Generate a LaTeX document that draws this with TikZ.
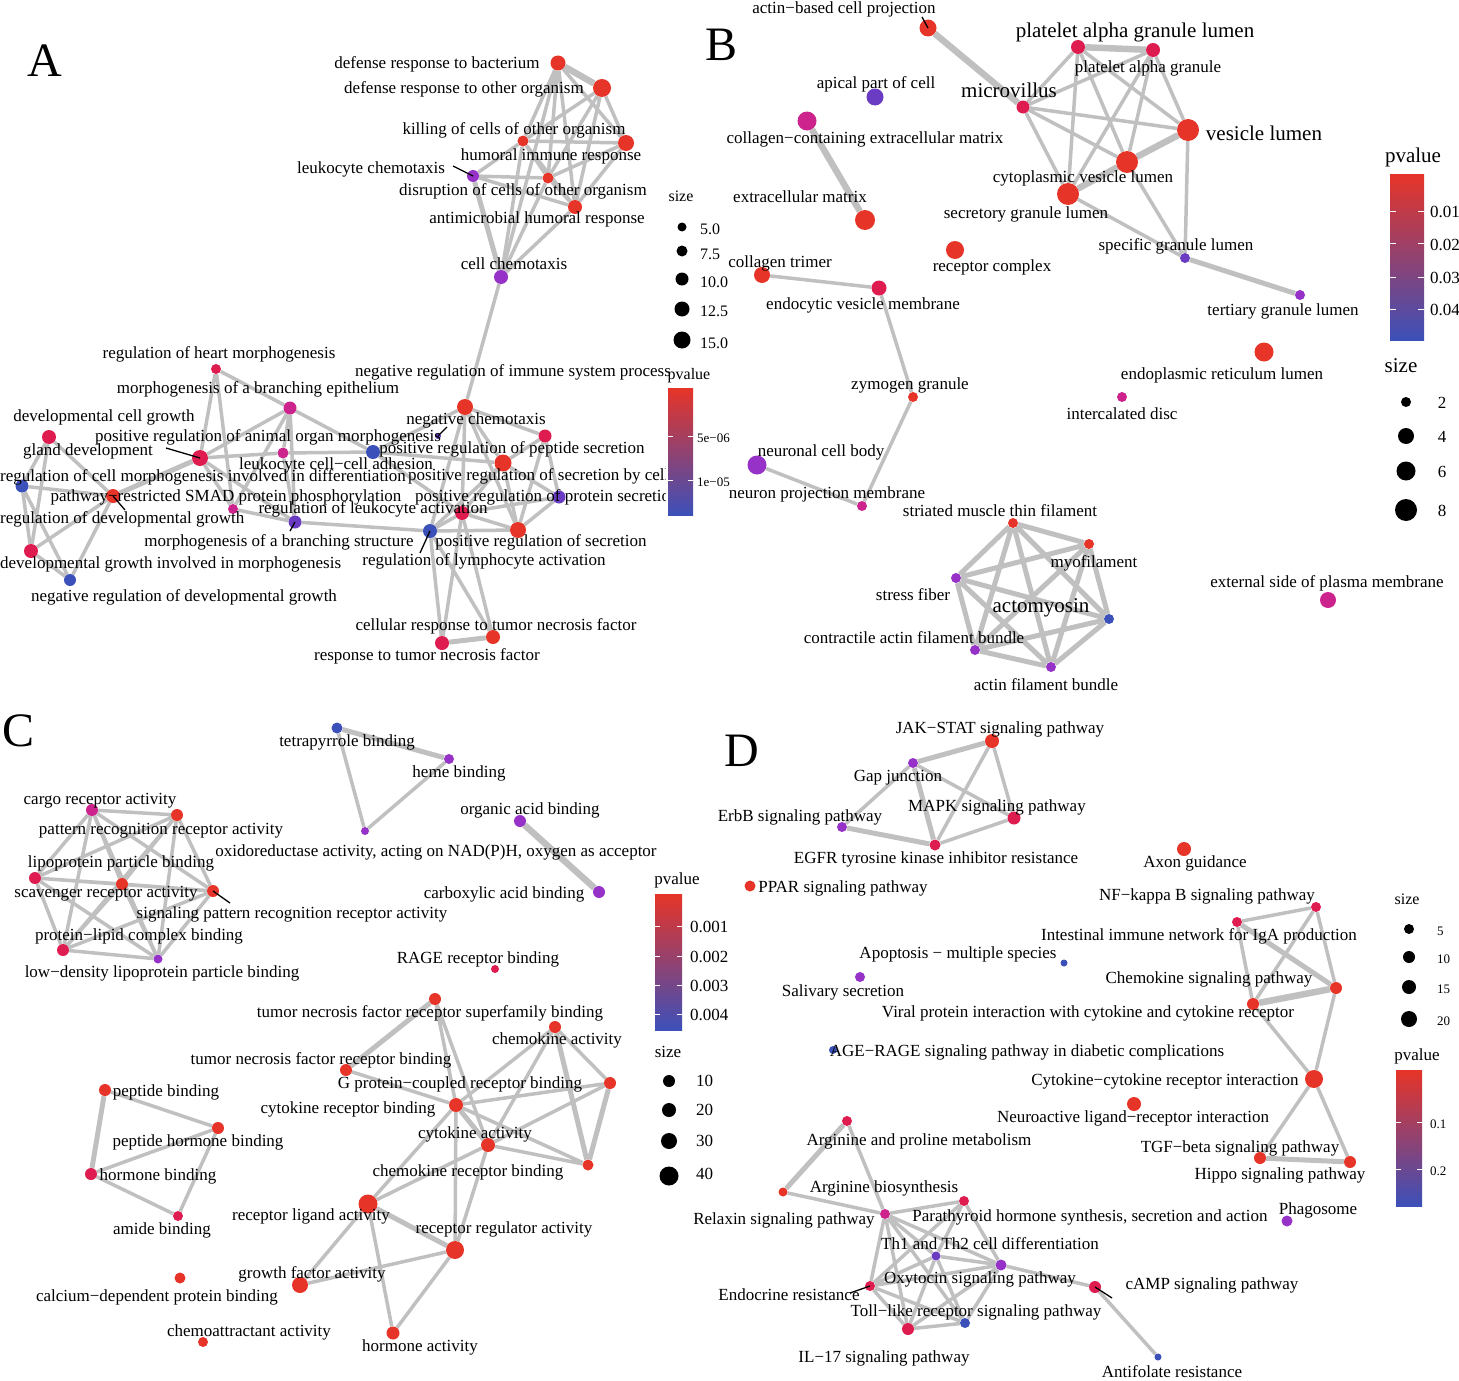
\documentclass[tikz,border=0pt]{standalone}
\usepackage{fontspec}
\setmainfont{Liberation Serif}
\usetikzlibrary{backgrounds}
\definecolor{pv1}{RGB}{230,52,40}
\definecolor{pv2}{RGB}{222,28,80}
\definecolor{pv3}{RGB}{205,35,140}
\definecolor{pv4}{RGB}{150,50,200}
\definecolor{pv5}{RGB}{105,60,195}
\definecolor{pv6}{RGB}{60,80,185}
\definecolor{linkgray}{RGB}{192,192,192}
\tikzset{
    term/.style={circle, inner sep=0pt, minimum size=#1},
    go/.style={inner sep=0pt, font=\fontsize{17}{17}\selectfont, text height=15pt, text depth=1.5pt},
    gobig/.style={go, font=\fontsize{21}{21}\selectfont},
    keytxt/.style={go, font=\fontsize{16}{16}\selectfont},
    keysmall/.style={go, font=\fontsize{13}{13}\selectfont},
    panel/.style={inner sep=0pt, font=\fontsize{48}{48}\selectfont},
    link/.style={draw=linkgray, line width=3.5pt},
    linkm/.style={draw=linkgray, line width=5pt},
    linkt/.style={draw=linkgray, line width=6.5pt},
    lead/.style={draw=black, line width=1.3pt},
    cbtick/.style={draw=white, line width=0.8pt}
}
\begin{document}
\begin{tikzpicture}[x=1pt, y=-1pt]
\useasboundingbox (0,0) rectangle (1459,1381);
% A
\path node[panel] (pA) at (45,61) {A}
    node[term=15, fill=pv1] (a1) at (558,63) {}
    node[term=18, fill=pv1] (a2) at (602,88) {}
    node[term=11, fill=pv1] (a3) at (523,141) {}
    node[term=16, fill=pv1] (a4) at (626,143) {}
    node[term=12, fill=pv4] (a5) at (473,176) {}
    node[term=11, fill=pv1] (a6) at (548,178) {}
    node[term=14, fill=pv1] (a7) at (575,207) {}
    node[term=14, fill=pv4] (a8) at (501,277) {}
    node[term=10, fill=pv2] (a9) at (216,369) {}
    node[term=13, fill=pv3] (a10) at (290,408) {}
    node[term=14, fill=pv2] (a11) at (49,437) {}
    node[term=16, fill=pv2] (a12) at (200,458) {}
    node[term=11, fill=pv3] (a13) at (283,453) {}
    node[term=13, fill=pv6] (a14) at (22,486) {}
    node[term=14, fill=pv1] (a15) at (113,496) {}
    node[term=10, fill=pv3] (a16) at (233,509) {}
    node[term=13, fill=pv5] (a17) at (295,522) {}
    node[term=14, fill=pv2] (a18) at (31,551) {}
    node[term=12, fill=pv6] (a19) at (70,580) {}
    node[term=16, fill=pv1] (a20) at (465,407) {}
    node[term=6, fill=pv5] (a21) at (438,436) {}
    node[term=13, fill=pv2] (a22) at (545,436) {}
    node[term=14, fill=pv6] (a23) at (373,452) {}
    node[term=17, fill=pv1] (a24) at (503,463) {}
    node[term=13, fill=pv5] (a25) at (559,497) {}
    node[term=14, fill=pv2] (a26) at (462,513) {}
    node[term=14, fill=pv6] (a27) at (430,531) {}
    node[term=16, fill=pv1] (a28) at (518,530) {}
    node[term=14, fill=pv1] (a29) at (493,637) {}
    node[term=14, fill=pv2] (a30) at (442,643) {};
\path node[go] (ta1) at (437,62) {defense response to bacterium}
    node[go] (ta2) at (464,87) {defense response to other organism}
    node[go] (ta3) at (514,128) {killing of cells of other organism}
    node[go] (ta4) at (551,154) {humoral immune response}
    node[go] (ta5) at (371,167) {leukocyte chemotaxis}
    node[go] (ta6) at (523,189) {disruption of cells of other organism}
    node[go] (ta7) at (537,217) {antimicrobial humoral response}
    node[go] (ta8) at (514,263) {cell chemotaxis}
    node[go] (ta9) at (219,352) {regulation of heart morphogenesis}
    node[go] (ta10) at (258,387) {morphogenesis of a branching epithelium}
    node[go] (ta11) at (104,415) {developmental cell growth}
    node[go] (ta12) at (268,435) {positive regulation of animal organ morphogenesis}
    node[go] (ta13) at (88,449) {gland development}
    node[go] (ta14) at (336,463) {leukocyte cell−cell adhesion}
    node[go, anchor=west] (ta15) at (0,475) {regulation of cell morphogenesis involved in differentiation}
    node[go] (ta16) at (226,495) {pathway−restricted SMAD protein phosphorylation}
    node[go] (ta17) at (373,507) {regulation of leukocyte activation}
    node[go, anchor=west] (ta18) at (0,517) {regulation of developmental growth}
    node[go] (ta19) at (279,540) {morphogenesis of a branching structure}
    node[go, anchor=west] (ta20) at (0,562) {developmental growth involved in morphogenesis}
    node[go] (ta21) at (184,595) {negative regulation of developmental growth}
    node[go] (ta22) at (513,370) {negative regulation of immune system process}
    node[go] (ta23) at (476,418) {negative chemotaxis}
    node[go] (ta24) at (512,447) {positive regulation of peptide secretion}
    node[go, anchor=west] (ta25) at (408,474) {positive regulation of secretion by cell}
    node[go, anchor=west] (ta26) at (415,495) {positive regulation of protein secretion}
    node[go] (ta27) at (541,540) {positive regulation of secretion}
    node[go] (ta28) at (484,559) {regulation of lymphocyte activation}
    node[go] (ta29) at (496,624) {cellular response to tumor necrosis factor}
    node[go] (ta30) at (427,654) {response to tumor necrosis factor};
\path coordinate (ka5) at (453,166)
    coordinate (ka12) at (166,448)
    coordinate (ka15) at (125,510)
    coordinate (ka17) at (290,531)
    coordinate (ka21) at (447,427)
    coordinate (ka27) at (420,553);
\draw[lead] (ka5) -- (a5.center);
\draw[lead] (ka12) -- (a12.center);
\draw[lead] (a15.center) -- (ka15);
\draw[lead] (ka17) -- (a17.center);
\draw[lead] (ka21) -- (a21.center);
\draw[lead] (ka27) -- (a27.center);
\begin{scope}[on background layer]
\draw[linkt] (a1) -- (a2);
\draw[link] (a1) -- (a3) (a1) -- (a4) (a1) -- (a6) (a1) -- (a7) (a1) -- (a8);
\draw[link] (a2) -- (a3) (a2) -- (a4) (a2) -- (a6) (a2) -- (a7);
\draw[link] (a3) -- (a4) (a3) -- (a5) (a3) -- (a6) (a3) -- (a7) (a3) -- (a8);
\draw[link] (a4) -- (a6) (a4) -- (a7) (a5) -- (a6) (a5) -- (a7) (a6) -- (a7) (a6) -- (a8) (a7) -- (a8);
\draw[linkm] (a5) -- (a8);
\draw[link] (a8) -- (a20);
\draw[link] (a11) -- (a14) (a11) -- (a15) (a11) -- (a18) (a14) -- (a15) (a14) -- (a18) (a14) -- (a19) (a15) -- (a18) (a15) -- (a19) (a18) -- (a19);
\draw[linkm] (a15) -- (a12);
\draw[link] (a9) -- (a12) (a9) -- (a10) (a9) -- (a16) (a10) -- (a12) (a10) -- (a13) (a10) -- (a16) (a10) -- (a17) (a10) -- (a23);
\draw[link] (a12) -- (a13) (a12) -- (a16) (a12) -- (a17) (a13) -- (a17) (a13) -- (a23) (a16) -- (a17) (a17) -- (a27);
\draw[link] (a23) -- (a20) (a23) -- (a24) (a23) -- (a26) (a20) -- (a22) (a20) -- (a24) (a20) -- (a26) (a20) -- (a27) (a20) -- (a28);
\draw[link] (a22) -- (a24) (a22) -- (a25) (a22) -- (a28) (a24) -- (a25) (a24) -- (a26) (a24) -- (a27) (a24) -- (a28);
\draw[link] (a25) -- (a26) (a25) -- (a28) (a26) -- (a27) (a26) -- (a28) (a27) -- (a28);
\draw[link] (a27) -- (a29) (a27) -- (a30) (a26) -- (a29) (a26) -- (a30);
\draw[linkm] (a29) -- (a30);
\end{scope}
\fill[white] (666,382) rectangle (745,520);
\shade[top color=pv1, middle color=pv3, bottom color=pv6] (668,388) rectangle (693,515);
\draw[cbtick] (668,436) -- ++(5,0) (693,436) -- ++(-5,0) (668,480) -- ++(5,0) (693,480) -- ++(-5,0);
\path node[keytxt] (kA1) at (681,195) {size}
    node[term=9, fill=black] (sA1) at (682,227) {}
    node[term=11, fill=black] (sA2) at (682,251) {}
    node[term=13, fill=black] (sA3) at (682,279) {}
    node[term=15, fill=black] (sA4) at (682,309) {}
    node[term=17, fill=black] (sA5) at (682,340) {}
    node[keytxt, anchor=west] (nA1) at (700,228) {5.0}
    node[keytxt, anchor=west] (nA2) at (700,253) {7.5}
    node[keytxt, anchor=west] (nA3) at (700,281) {10.0}
    node[keytxt, anchor=west] (nA4) at (700,310) {12.5}
    node[keytxt, anchor=west] (nA5) at (700,342) {15.0}
    node[keytxt] (kA2) at (689,373) {pvalue}
    node[keysmall, anchor=west] (vA1) at (697,436) {5e−06}
    node[keysmall, anchor=west] (vA2) at (697,480) {1e−05};
% B
\path node[panel] (pB) at (721,45) {B}
    node[term=17, fill=pv1] (b1) at (928,28) {}
    node[term=14, fill=pv2] (b2) at (1078,47) {}
    node[term=14, fill=pv2] (b3) at (1153,50) {}
    node[term=17, fill=pv5] (b4) at (875,97) {}
    node[term=13, fill=pv2] (b5) at (1023,107) {}
    node[term=19, fill=pv3] (b6) at (807,121) {}
    node[term=22, fill=pv1] (b7) at (1188,130) {}
    node[term=22, fill=pv1] (b8) at (1127,162) {}
    node[term=22, fill=pv1] (b9) at (1068,194) {}
    node[term=20, fill=pv1] (b10) at (865,220) {}
    node[term=10, fill=pv5] (b11) at (1185,258) {}
    node[term=16, fill=pv1] (b12) at (762,275) {}
    node[term=18, fill=pv1] (b13) at (955,250) {}
    node[term=15, fill=pv2] (b14) at (879,288) {}
    node[term=10, fill=pv4] (b15) at (1300,295) {}
    node[term=19, fill=pv1] (b16) at (1264,352) {}
    node[term=10, fill=pv1] (b17) at (913,397) {}
    node[term=10, fill=pv3] (b18) at (1122,397) {}
    node[term=19, fill=pv4] (b19) at (757,465) {}
    node[term=10, fill=pv3] (b20) at (862,506) {}
    node[term=10, fill=pv1] (b21) at (1013,523) {}
    node[term=10, fill=pv1] (b22) at (1089,544) {}
    node[term=10, fill=pv4] (b23) at (956,578) {}
    node[term=10, fill=pv6] (b24) at (1109,619) {}
    node[term=10, fill=pv4] (b25) at (975,650) {}
    node[term=10, fill=pv4] (b26) at (1051,667) {}
    node[term=16, fill=pv3] (b27) at (1328,600) {};
\path node[go] (tb1) at (844,7) {actin−based cell projection}
    node[gobig] (tb2) at (1135,31) {platelet alpha granule lumen}
    node[go] (tb3) at (1148,66) {platelet alpha granule}
    node[go] (tb4) at (876,82) {apical part of cell}
    node[gobig] (tb5) at (1009,91) {microvillus}
    node[go] (tb6) at (865,137) {collagen−containing extracellular matrix}
    node[gobig] (tb7) at (1264,134) {vesicle lumen}
    node[go] (tb8) at (1083,176) {cytoplasmic vesicle lumen}
    node[go] (tb9) at (800,196) {extracellular matrix}
    node[go] (tb10) at (1026,212) {secretory granule lumen}
    node[go] (tb11) at (1176,244) {specific granule lumen}
    node[go] (tb12) at (780,261) {collagen trimer}
    node[go] (tb13) at (992,265) {receptor complex}
    node[go] (tb14) at (863,303) {endocytic vesicle membrane}
    node[go] (tb15) at (1283,309) {tertiary granule lumen}
    node[go] (tb16) at (1222,373) {endoplasmic reticulum lumen}
    node[go] (tb17) at (910,383) {zymogen granule}
    node[go] (tb18) at (1122,413) {intercalated disc}
    node[go] (tb19) at (821,450) {neuronal cell body}
    node[go] (tb20) at (827,492) {neuron projection membrane}
    node[go] (tb21) at (1000,510) {striated muscle thin filament}
    node[go] (tb22) at (1094,561) {myofilament}
    node[go] (tb23) at (1327,581) {external side of plasma membrane}
    node[go] (tb24) at (913,594) {stress fiber}
    node[gobig] (tb25) at (1041,606) {actomyosin}
    node[go] (tb26) at (914,637) {contractile actin filament bundle}
    node[go] (tb27) at (1046,684) {actin filament bundle};
\path coordinate (kb1) at (922,17);
\draw[lead] (kb1) -- (b1.center);
\begin{scope}[on background layer]
\draw[linkt] (b1) -- (b5);
\draw[linkt] (b6) -- (b10);
\draw[link] (b12) -- (b14) (b14) -- (b17) (b17) -- (b20) (b19) -- (b20);
\draw[linkm] (b11) -- (b15);
\draw[linkt] (b2) -- (b3) (b7) -- (b8) (b8) -- (b9);
\draw[link] (b2) -- (b5) (b2) -- (b7) (b2) -- (b8) (b2) -- (b9) (b3) -- (b5) (b3) -- (b7) (b3) -- (b8) (b3) -- (b9);
\draw[link] (b5) -- (b7) (b5) -- (b8) (b5) -- (b9) (b7) -- (b9) (b7) -- (b11) (b8) -- (b11) (b9) -- (b11);
\draw[linkm] (b21) -- (b22) (b21) -- (b23) (b21) -- (b24) (b21) -- (b25) (b21) -- (b26) (b22) -- (b23) (b22) -- (b24) (b22) -- (b25);
\draw[linkm] (b22) -- (b26) (b23) -- (b24) (b23) -- (b25) (b23) -- (b26) (b24) -- (b25) (b24) -- (b26) (b25) -- (b26);
\end{scope}
\shade[top color=pv1, middle color=pv3, bottom color=pv6] (1390,174) rectangle (1424,340);
\draw[cbtick] (1390,211) -- ++(6,0) (1424,211) -- ++(-6,0) (1390,243) -- ++(6,0) (1424,243) -- ++(-6,0)
    (1390,277) -- ++(6,0) (1424,277) -- ++(-6,0) (1390,309) -- ++(6,0) (1424,309) -- ++(-6,0);
\path node[gobig] (kB1) at (1413,156) {pvalue}
    node[go, anchor=west] (vB1) at (1430,211) {0.01}
    node[go, anchor=west] (vB2) at (1430,244) {0.02}
    node[go, anchor=west] (vB3) at (1430,277) {0.03}
    node[go, anchor=west] (vB4) at (1430,309) {0.04}
    node[gobig] (kB2) at (1401,366) {size}
    node[term=10, fill=black] (sB1) at (1406,402) {}
    node[term=16, fill=black] (sB2) at (1406,436) {}
    node[term=19, fill=black] (sB3) at (1406,471) {}
    node[term=22, fill=black] (sB4) at (1406,510) {}
    node[go] (nB1) at (1442,402) {2}
    node[go] (nB2) at (1442,436) {4}
    node[go] (nB3) at (1442,471) {6}
    node[go] (nB4) at (1442,510) {8};
% C
\path node[panel] (pC) at (19,731) {C}
    node[term=12, fill=pv3] (c1) at (92,810) {}
    node[term=12, fill=pv1] (c2) at (177,815) {}
    node[term=12, fill=pv2] (c3) at (35,878) {}
    node[term=12, fill=pv1] (c4) at (122,884) {}
    node[term=12, fill=pv1] (c5) at (213,891) {}
    node[term=12, fill=pv2] (c6) at (63,950) {}
    node[term=9, fill=pv4] (c7) at (158,959) {}
    node[term=11, fill=pv6] (c8) at (337,728) {}
    node[term=10, fill=pv4] (c9) at (449,759) {}
    node[term=8, fill=pv4] (c10) at (365,831) {}
    node[term=12, fill=pv4] (c11) at (520,821) {}
    node[term=12, fill=pv4] (c12) at (599,892) {}
    node[term=8, fill=pv2] (c13) at (495,969) {}
    node[term=12, fill=pv1] (c14) at (435,999) {}
    node[term=12, fill=pv1] (c15) at (555,1027) {}
    node[term=12, fill=pv1] (c16) at (346,1070) {}
    node[term=12, fill=pv1] (c17) at (610,1083) {}
    node[term=14, fill=pv1] (c18) at (456,1105) {}
    node[term=14, fill=pv1] (c19) at (488,1145) {}
    node[term=11, fill=pv1] (c20) at (588,1165) {}
    node[term=19, fill=pv1] (c21) at (368,1204) {}
    node[term=18, fill=pv1] (c22) at (455,1250) {}
    node[term=16, fill=pv1] (c23) at (300,1285) {}
    node[term=11, fill=pv1] (c24) at (180,1278) {}
    node[term=10, fill=pv1] (c25) at (203,1342) {}
    node[term=13, fill=pv1] (c26) at (393,1333) {}
    node[term=12, fill=pv1] (c27) at (105,1090) {}
    node[term=12, fill=pv1] (c28) at (218,1128) {}
    node[term=12, fill=pv2] (c29) at (91,1174) {}
    node[term=10, fill=pv2] (c30) at (178,1216) {};
\path node[go] (tc1) at (100,798) {cargo receptor activity}
    node[go] (tc2) at (161,828) {pattern recognition receptor activity}
    node[go] (tc3) at (121,861) {lipoprotein particle binding}
    node[go] (tc4) at (106,891) {scavenger receptor activity}
    node[go] (tc5) at (292,912) {signaling pattern recognition receptor activity}
    node[go] (tc6) at (139,934) {protein−lipid complex binding}
    node[go] (tc7) at (162,971) {low−density lipoprotein particle binding}
    node[go] (tc8) at (347,740) {tetrapyrrole binding}
    node[go] (tc9) at (459,771) {heme binding}
    node[go] (tc10) at (530,808) {organic acid binding}
    node[go] (tc11) at (436,850) {oxidoreductase activity, acting on NAD(P)H, oxygen as acceptor}
    node[go] (tc12) at (504,892) {carboxylic acid binding}
    node[go] (tc13) at (478,957) {RAGE receptor binding}
    node[go] (tc14) at (430,1011) {tumor necrosis factor receptor superfamily binding}
    node[go] (tc15) at (557,1038) {chemokine activity}
    node[go] (tc16) at (321,1058) {tumor necrosis factor receptor binding}
    node[go] (tc17) at (460,1082) {G protein−coupled receptor binding}
    node[go] (tc18) at (166,1090) {peptide binding}
    node[go] (tc19) at (348,1107) {cytokine receptor binding}
    node[go] (tc20) at (475,1132) {cytokine activity}
    node[go] (tc21) at (198,1140) {peptide hormone binding}
    node[go] (tc22) at (468,1170) {chemokine receptor binding}
    node[go] (tc23) at (158,1174) {hormone binding}
    node[go] (tc24) at (311,1214) {receptor ligand activity}
    node[go] (tc25) at (504,1227) {receptor regulator activity}
    node[go] (tc26) at (162,1228) {amide binding}
    node[go] (tc27) at (312,1272) {growth factor activity}
    node[go] (tc28) at (157,1295) {calcium−dependent protein binding}
    node[go] (tc29) at (249,1330) {chemoattractant activity}
    node[go] (tc30) at (420,1345) {hormone activity};
\path coordinate (kc5) at (230,903);
\draw[lead] (c5.center) -- (kc5);
\begin{scope}[on background layer]
\draw[link] (c1) -- (c2) (c1) -- (c3) (c1) -- (c4) (c1) -- (c5) (c1) -- (c6) (c1) -- (c7) (c2) -- (c3) (c2) -- (c4) (c2) -- (c5) (c2) -- (c6) (c2) -- (c7);
\draw[link] (c3) -- (c4) (c3) -- (c5) (c3) -- (c6) (c3) -- (c7) (c4) -- (c5) (c4) -- (c6) (c4) -- (c7) (c5) -- (c6) (c5) -- (c7) (c6) -- (c7);
\draw[linkm] (c8) -- (c9);
\draw[link] (c8) -- (c10) (c9) -- (c10);
\draw[linkt] (c11) -- (c12);
\draw[linkm] (c14) -- (c16);
\draw[link] (c14) -- (c18) (c14) -- (c19) (c15) -- (c17) (c15) -- (c18) (c15) -- (c19) (c17) -- (c18) (c17) -- (c19) (c16) -- (c18);
\draw[linkm] (c15) -- (c20) (c17) -- (c20) (c18) -- (c19) (c21) -- (c22);
\draw[link] (c18) -- (c20) (c18) -- (c21) (c18) -- (c22) (c19) -- (c20) (c19) -- (c21) (c19) -- (c22);
\draw[link] (c21) -- (c23) (c21) -- (c26) (c22) -- (c23) (c22) -- (c26);
\draw[linkm] (c27) -- (c29);
\draw[link] (c27) -- (c28) (c28) -- (c29) (c28) -- (c30) (c29) -- (c30);
\end{scope}
\shade[top color=pv1, middle color=pv3, bottom color=pv6] (655,894) rectangle (682,1030);
\draw[cbtick] (655,926) -- ++(5,0) (682,926) -- ++(-5,0) (655,956) -- ++(5,0) (682,956) -- ++(-5,0)
    (655,985) -- ++(5,0) (682,985) -- ++(-5,0) (655,1014) -- ++(5,0) (682,1014) -- ++(-5,0);
\path node[go] (kC1) at (677,878) {pvalue}
    node[go, anchor=west] (vC1) at (690,926) {0.001}
    node[go, anchor=west] (vC2) at (690,956) {0.002}
    node[go, anchor=west] (vC3) at (690,985) {0.003}
    node[go, anchor=west] (vC4) at (690,1014) {0.004}
    node[go] (kC2) at (668,1051) {size}
    node[term=12, fill=black] (sC1) at (669,1081) {}
    node[term=14, fill=black] (sC2) at (669,1110) {}
    node[term=16, fill=black] (sC3) at (669,1141) {}
    node[term=19, fill=black] (sC4) at (669,1176) {}
    node[go, anchor=west] (nC1) at (696,1080) {10}
    node[go, anchor=west] (nC2) at (696,1109) {20}
    node[go, anchor=west] (nC3) at (696,1140) {30}
    node[go, anchor=west] (nC4) at (696,1173) {40};
% D
\path node[panel] (pD) at (742,751) {D}
    node[term=14, fill=pv1] (d1) at (992,741) {}
    node[term=10, fill=pv4] (d2) at (913,763) {}
    node[term=13, fill=pv2] (d3) at (1014,818) {}
    node[term=10, fill=pv4] (d4) at (842,827) {}
    node[term=11, fill=pv2] (d5) at (935,845) {}
    node[term=11, fill=pv1] (d6) at (750,886) {}
    node[term=14, fill=pv1] (d7) at (1184,849) {}
    node[term=10, fill=pv2] (d8) at (1316,907) {}
    node[term=10, fill=pv2] (d9) at (1237,922) {}
    node[term=7, fill=pv6] (d10) at (1064,963) {}
    node[term=10, fill=pv4] (d11) at (860,977) {}
    node[term=12, fill=pv1] (d12) at (1336,988) {}
    node[term=12, fill=pv1] (d13) at (1253,1004) {}
    node[term=8, fill=pv6] (d14) at (833,1050) {}
    node[term=18, fill=pv1] (d15) at (1314,1079) {}
    node[term=14, fill=pv1] (d16) at (1134,1104) {}
    node[term=10, fill=pv2] (d17) at (847,1121) {}
    node[term=12, fill=pv1] (d18) at (1260,1158) {}
    node[term=12, fill=pv1] (d19) at (1350,1162) {}
    node[term=9, fill=pv1] (d20) at (783,1192) {}
    node[term=10, fill=pv2] (d21) at (964,1201) {}
    node[term=10, fill=pv3] (d22) at (885,1214) {}
    node[term=11, fill=pv4] (d23) at (1287,1221) {}
    node[term=9, fill=pv5] (d24) at (936,1256) {}
    node[term=11, fill=pv4] (d25) at (1001,1265) {}
    node[term=10, fill=pv2] (d26) at (870,1286) {}
    node[term=12, fill=pv2] (d27) at (1095,1287) {}
    node[term=10, fill=pv6] (d28) at (965,1323) {}
    node[term=12, fill=pv2] (d29) at (908,1329) {}
    node[term=7, fill=pv6] (d30) at (1158,1357) {};
\path node[go] (td1) at (1000,727) {JAK−STAT signaling pathway}
    node[go] (td2) at (898,775) {Gap junction}
    node[go] (td3) at (997,805) {MAPK signaling pathway}
    node[go] (td4) at (800,815) {ErbB signaling pathway}
    node[go] (td5) at (936,857) {EGFR tyrosine kinase inhibitor resistance}
    node[go] (td6) at (1195,861) {Axon guidance}
    node[go] (td7) at (843,886) {PPAR signaling pathway}
    node[go] (td8) at (1207,894) {NF−kappa B signaling pathway}
    node[go] (td9) at (1199,934) {Intestinal immune network for IgA production}
    node[go] (td10) at (958,952) {Apoptosis − multiple species}
    node[go] (td11) at (1209,977) {Chemokine signaling pathway}
    node[go] (td12) at (843,990) {Salivary secretion}
    node[go] (td13) at (1088,1011) {Viral protein interaction with cytokine and cytokine receptor}
    node[go] (td14) at (1027,1050) {AGE−RAGE signaling pathway in diabetic complications}
    node[go] (td15) at (1165,1079) {Cytokine−cytokine receptor interaction}
    node[go] (td16) at (1133,1116) {Neuroactive ligand−receptor interaction}
    node[go] (td17) at (919,1139) {Arginine and proline metabolism}
    node[go] (td18) at (1240,1146) {TGF−beta signaling pathway}
    node[go] (td19) at (1280,1173) {Hippo signaling pathway}
    node[go] (td20) at (884,1186) {Arginine biosynthesis}
    node[go] (td21) at (1318,1208) {Phagosome}
    node[go] (td22) at (1090,1215) {Parathyroid hormone synthesis, secretion and action}
    node[go] (td23) at (784,1218) {Relaxin signaling pathway}
    node[go] (td24) at (990,1243) {Th1 and Th2 cell differentiation}
    node[go] (td25) at (980,1277) {Oxytocin signaling pathway}
    node[go] (td26) at (1212,1283) {cAMP signaling pathway}
    node[go] (td27) at (789,1294) {Endocrine resistance}
    node[go] (td28) at (976,1310) {Toll−like receptor signaling pathway}
    node[go] (td29) at (884,1356) {IL−17 signaling pathway}
    node[go] (td30) at (1172,1371) {Antifolate resistance};
\path coordinate (kd26) at (850,1293)
    coordinate (kd27) at (1112,1298);
\draw[lead] (kd26) -- (d26.center);
\draw[lead] (d27.center) -- (kd27);
\begin{scope}[on background layer]
\draw[linkm] (d1) -- (d2) (d2) -- (d5) (d4) -- (d5);
\draw[link] (d1) -- (d3) (d1) -- (d5) (d2) -- (d3) (d2) -- (d4) (d3) -- (d5);
\draw[link] (d8) -- (d9) (d8) -- (d12) (d8) -- (d13) (d9) -- (d13) (d13) -- (d15) (d12) -- (d15) (d15) -- (d18) (d15) -- (d19);
\draw[linkm] (d9) -- (d12) (d18) -- (d19);
\draw[linkt] (d12) -- (d13);
\draw[linkm] (d17) -- (d20);
\draw[link] (d17) -- (d22) (d20) -- (d22) (d22) -- (d21) (d22) -- (d24) (d22) -- (d25) (d22) -- (d26) (d22) -- (d29) (d22) -- (d28);
\draw[link] (d21) -- (d24) (d21) -- (d25) (d21) -- (d26) (d24) -- (d25) (d24) -- (d26) (d24) -- (d29) (d24) -- (d28);
\draw[link] (d25) -- (d26) (d25) -- (d28) (d25) -- (d29) (d25) -- (d27) (d26) -- (d29) (d26) -- (d28) (d28) -- (d29) (d27) -- (d30);
\end{scope}
\shade[top color=pv1, middle color=pv3, bottom color=pv6] (1396,1070) rectangle (1422,1206);
\draw[cbtick] (1396,1122) -- ++(5,0) (1422,1122) -- ++(-5,0) (1396,1169) -- ++(5,0) (1422,1169) -- ++(-5,0);
\path node[keytxt] (kD1) at (1407,898) {size}
    node[term=10, fill=black] (sD1) at (1409,929) {}
    node[term=12, fill=black] (sD2) at (1409,957) {}
    node[term=14, fill=black] (sD3) at (1409,987) {}
    node[term=16, fill=black] (sD4) at (1409,1019) {}
    node[keysmall, anchor=west] (nD1) at (1437,929) {5}
    node[keysmall, anchor=west] (nD2) at (1437,957) {10}
    node[keysmall, anchor=west] (nD3) at (1437,987) {15}
    node[keysmall, anchor=west] (nD4) at (1437,1019) {20}
    node[go] (kD2) at (1417,1054) {pvalue}
    node[keysmall, anchor=west] (vD1) at (1430,1122) {0.1}
    node[keysmall, anchor=west] (vD2) at (1430,1169) {0.2};
\end{tikzpicture}
\end{document}
